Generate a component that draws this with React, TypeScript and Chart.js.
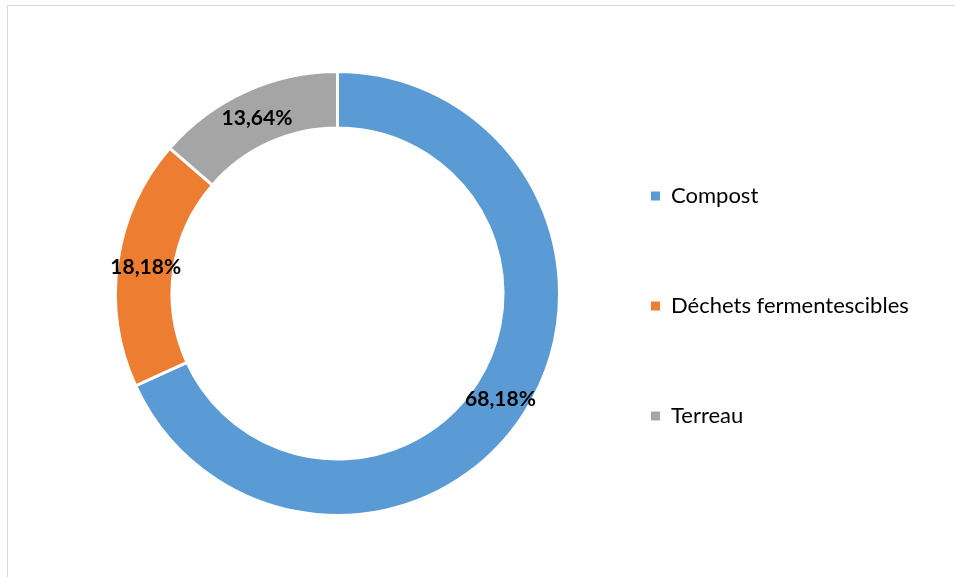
import React, { useEffect, useRef } from "react";
import { Chart, registerables } from "chart.js";

Chart.register(...registerables);

const categories = ["Compost", "Déchets fermentescibles", "Terreau"];
const values = [68.18, 18.18, 13.64];
const colors = ["#5B9BD5", "#ED7D31", "#A5A5A5"];

const FONT = "Lato";
const LEGEND_SIZE = 22;
const LABEL_SIZE = 21;

const fmt = (v: number) => v.toFixed(2).replace(".", ",") + "%";

const arcLabels = {
  id: "arcLabels",
  afterDatasetsDraw(chart: any) {
    const ctx = chart.ctx;
    const meta = chart.getDatasetMeta(0);
    ctx.save();
    ctx.font = `bold ${LABEL_SIZE}px ${FONT}`;
    ctx.fillStyle = "#000000";
    ctx.textAlign = "center";
    ctx.textBaseline = "middle";
    meta.data.forEach((arc: any, i: number) => {
      const p = arc.getCenterPoint();
      ctx.fillText(fmt(values[i]), p.x, p.y + 1);
    });
    ctx.restore();
  },
};

export default function App() {
  const ref = useRef<HTMLCanvasElement>(null);

  useEffect(() => {
    document.body.style.margin = "0";
    document.body.style.overflow = "hidden";
    const canvas = ref.current!;
    const mctx = document.createElement("canvas").getContext("2d")!;
    mctx.font = `${LEGEND_SIZE}px ${FONT}`;
    const maxText = Math.max(...categories.map((c) => mctx.measureText(c).width));
    const boxW = 9;
    const pad = 110 - LEGEND_SIZE;
    const legendW = pad + boxW + LEGEND_SIZE / 2 + maxText + 10;
    const legendLeft = 643 - pad;
    const padL = 2 * 329.5 - legendLeft;
    const CW = Math.ceil(legendLeft + legendW) + 1;
    canvas.width = CW;
    canvas.height = 571;
    canvas.style.width = CW + "px";
    canvas.style.height = "571px";

    const chart = new Chart(canvas, {
      type: "doughnut",
      data: {
        labels: categories,
        datasets: [
          {
            data: values,
            backgroundColor: colors,
            borderColor: "#ffffff",
            borderWidth: 3,
            hoverBorderWidth: 3,
          },
        ],
      },
      options: {
        responsive: false,
        animation: false,
        devicePixelRatio: 1,
        radius: 222,
        cutout: 167,
        layout: { padding: { left: padL, top: 10, bottom: 6, right: CW - legendLeft - legendW } },
        plugins: {
          tooltip: { enabled: false },
          legend: {
            position: "right",
            title: { display: true, text: " ", font: { size: 10, lineHeight: 1 }, padding: { top: 7.5, bottom: 7.5 } },
            labels: {
              boxWidth: boxW,
              boxHeight: 9,
              padding: pad,
              color: "#000000",
              font: { family: FONT, size: LEGEND_SIZE },
              generateLabels: (ch: any) => {
                const base = (Chart as any).overrides.doughnut.plugins.legend.labels.generateLabels(ch);
                return base.map((l: any) => ({ ...l, lineWidth: 0, strokeStyle: l.fillStyle }));
              },
            },
          },
        },
      },
      plugins: [arcLabels],
    });
    return () => chart.destroy();
  }, []);

  return (
    <div
      style={{
        position: "absolute",
        left: 7,
        top: 5,
        width: 1200,
        height: 700,
        border: "1px solid #d9d9d9",
        background: "#ffffff",
        overflow: "hidden",
      }}
    >
      <canvas ref={ref} style={{ display: "block" }} />
    </div>
  );
}
